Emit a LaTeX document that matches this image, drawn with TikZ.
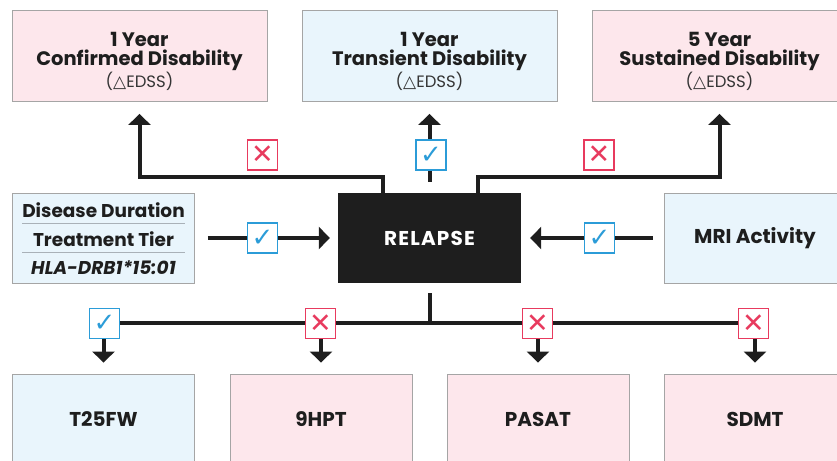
\documentclass[tikz,border=0pt]{standalone}
\usepackage{fontspec}
\setmainfont{Poppins}
\newfontfamily\symfont{DejaVu Sans}
\usetikzlibrary{arrows.meta}
\definecolor{pinkbg}{HTML}{FDE7EC}
\definecolor{bluebg}{HTML}{E9F5FC}
\definecolor{boxline}{HTML}{A5A5A5}
\definecolor{sepline}{HTML}{A9B1B8}
\definecolor{ink}{HTML}{1E1E1E}
\definecolor{okblue}{HTML}{2B9CD8}
\definecolor{nored}{HTML}{E83A5E}
\newcommand\edsslabel{{\mdseries\fontsize{16.5}{19.5}\selectfont\color{ink!90}(\symfont\fontsize{17}{19.5}\selectfont△\mdseries\rmfamily\fontsize{16.5}{19.5}\selectfont EDSS)}}
\begin{document}
\begin{tikzpicture}[x=1pt,y=-1pt,
  box/.style={draw=boxline, line width=0.9pt, inner sep=0pt, align=center,
    text=ink, font=\bfseries\fontsize{20}{20}\selectfont},
  pinkbox/.style={box, fill=pinkbg},
  bluebox/.style={box, fill=bluebg},
  topbox/.style={minimum width=255pt, minimum height=91pt},
  toptext/.style={inner sep=0pt, align=center, text=ink, font=\bfseries\fontsize{19.5}{19.5}\selectfont},
  midbox/.style={minimum width=182pt, minimum height=90pt},
  botbox/.style={minimum width=182pt, minimum height=91pt},
  conn/.style={draw=ink, line width=4pt},
  arr/.style={conn, -{Triangle[width=22pt,length=11pt]}},
  okmark/.style={draw=okblue, fill=white, line width=1.1pt, minimum size=30pt,
    inner sep=0pt, text=okblue, font=\symfont\fontsize{26}{26}\selectfont},
  nomark/.style={draw=nored, fill=white, line width=1.1pt, minimum size=30pt,
    inner sep=0pt, text=nored, font=\symfont\fontsize{27}{27}\selectfont},
  rowtext/.style={text=ink, inner sep=0pt, font=\bfseries\fontsize{18.5}{20}\selectfont}
]
\useasboundingbox (0,0) rectangle (837,460);
\clip (0,0) rectangle (837,460);

% top boxes
\node[pinkbox, topbox] (cdis) at (139.5,56) {};
\node[toptext] (cdistext) at ([yshift=-5pt]cdis.center)
  {1 Year\\Confirmed Disability\\\edsslabel};
\node[bluebox, topbox] (tdis) at (429.5,56) {};
\node[toptext] (tdistext) at ([yshift=-5pt]tdis.center)
  {1 Year\\Transient Disability\\\edsslabel};
\node[pinkbox, topbox] (sdis) at (719.5,56) {};
\node[toptext] (sdistext) at ([yshift=-5pt]sdis.center)
  {5 Year\\Sustained Disability\\\edsslabel};

% middle
\node[bluebox, midbox] (pred) at (103.5,238) {};
\node[rowtext] (dd) at (103.5,210.5) {Disease Duration};
\node[rowtext] (tt) at (103.5,239) {Treatment Tier};
\node[rowtext] (hla) at (103.5,268) {\itshape HLA-DRB1*15:01};
\draw[sepline, line width=1pt] (22,223.5) -- (185,223.5);
\draw[sepline, line width=1pt] (22,252.5) -- (185,252.5);

\node[fill=ink, minimum width=183pt, minimum height=90pt, inner sep=0pt,
  text=white, font=\bfseries\fontsize{20}{20}\selectfont\addfontfeature{LetterSpace=6}] (relapse) at (429.5,238) {RELAPSE};

\node[bluebox, midbox] (mri) at (755,238) {MRI Activity};

% bottom boxes
\node[bluebox, botbox] (t25) at (103.5,419.5) {T25FW};
\node[pinkbox, botbox] (hpt) at (321,419.5) {9HPT};
\node[pinkbox, botbox] (pasat) at (538,419.5) {PASAT};
\node[pinkbox, botbox] (sdmt) at (755,419.5) {SDMT};

% connectors top
\draw[arr, shorten <=11pt, shorten >=12pt] (relapse.north) -- (tdis.south);
\coordinate (lstart) at ([xshift=-47pt]relapse.north);
\coordinate (rstart) at ([xshift=48pt]relapse.north);
\draw[arr, shorten >=12pt] ([yshift=-11pt]lstart) -- ++(0,-27) -| (cdis.south);
\draw[arr, shorten >=12pt] ([yshift=-11pt]rstart) -- ++(0,-27) -| (sdis.south);

% connectors middle
\draw[arr, shorten <=13pt, shorten >=8pt] (pred.east) -- (relapse.west);
\draw[arr, shorten <=11pt, shorten >=9pt] (mri.west) -- (relapse.east);

% connectors bottom
\coordinate (bus) at (429.5,322.5);
\draw[conn, shorten <=10pt] (relapse.south) -- (bus);
\draw[conn] (t25.north |- bus) -- (sdmt.north |- bus);
\foreach \b in {t25,hpt,pasat,sdmt}
  \draw[arr, shorten >=11pt] (\b.north |- bus) -- (\b.north);

% markers
\node[nomark] (m1) at (262.5,155) {✕};
\node[okmark] (m2) at (431,155) {✓};
\node[nomark] (m3) at (599,155) {✕};
\node[okmark] (m4) at (262.5,238) {✓};
\node[okmark] (m5) at (599.5,238) {✓};
\node[okmark] (m6) at (104.5,323.5) {✓};
\node[nomark] (m7) at (320.5,323.5) {✕};
\node[nomark] (m8) at (537.5,323.5) {✕};
\node[nomark] (m9) at (753.5,323.5) {✕};
\end{tikzpicture}
\end{document}
